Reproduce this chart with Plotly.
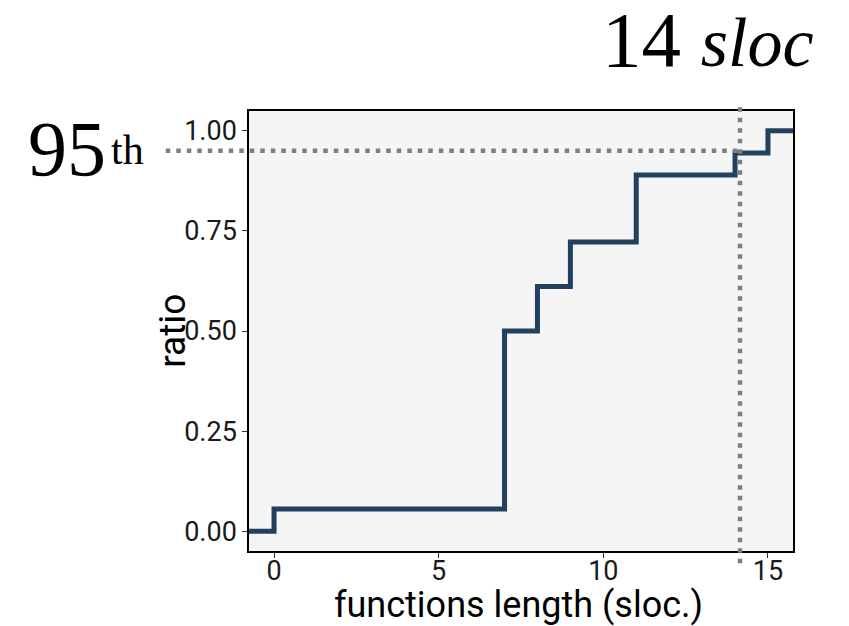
import plotly.graph_objects as go

# ECDF of function lengths (sloc)
step_x = [0, 7, 8, 9, 11, 14, 15]
step_y = [0.056, 0.5, 0.611, 0.722, 0.889, 0.944, 1.0]
x_range = [-0.76, 15.76]
y_range = [-0.049, 1.049]
p95_x = 14.15
p95_y = 0.95
x_ticks = [0, 5, 10, 15]
y_ticks = [0.0, 0.25, 0.5, 0.75, 1.0]
y_ticklabels = ["0.00", "0.25", "0.50", "0.75", "1.00"]

line_x = [x_range[0]] + step_x + [x_range[1]]
line_y = [0.0] + step_y + [step_y[-1]]

def fx(v):
    return (v - x_range[0]) / (x_range[1] - x_range[0])

def fy(v):
    return (v - y_range[0]) / (y_range[1] - y_range[0])

fig = go.Figure()
fig.add_trace(go.Scatter(x=line_x, y=line_y, mode="lines",
                         line=dict(color="#23405f", width=5, shape="hv"),
                         showlegend=False, hoverinfo="skip"))

dot = dict(color="#7f7f7f", width=4.5, dash="4.5px,6px")
fig.add_shape(type="line", xref="x domain", yref="y domain",
              x0=-0.153, x1=fx(p95_x), y0=fy(p95_y), y1=fy(p95_y), line=dot, layer="above")
fig.add_shape(type="line", xref="x domain", yref="y domain",
              x0=fx(p95_x), x1=fx(p95_x), y0=-0.028, y1=1.022, line=dot, layer="above")

serif = "Liberation Serif"
fig.add_annotation(xref="paper", yref="paper", x=-0.259, y=0.915, xanchor="right", yanchor="middle",
                   text="95", showarrow=False, font=dict(family=serif, size=78, color="black"))
fig.add_annotation(xref="paper", yref="paper", x=-0.258, y=0.912, xanchor="left", yanchor="middle",
                   text="th", showarrow=False, font=dict(family=serif, size=42, color="black"))
fig.add_annotation(xref="paper", yref="paper", x=1.04, y=1.163, xanchor="right", yanchor="middle",
                   text="14 <span style='font-size:70px'><i>sloc</i></span>", showarrow=False,
                   borderpad=0, font=dict(family=serif, size=79, color="black"))
# axis titles placed as text
fig.add_annotation(xref="paper", yref="paper", x=-0.142, y=0.5, xanchor="center", yanchor="middle",
                   text="ratio", textangle=-90, showarrow=False,
                   font=dict(family="Roboto", size=37, color="black"))
fig.add_annotation(xref="paper", yref="paper", x=0.496, y=-0.122, xanchor="center", yanchor="middle",
                   text="functions length (sloc.)", showarrow=False,
                   font=dict(family="Roboto", size=36, color="black"))

axis_common = dict(showgrid=False, zeroline=False, showline=True, linecolor="black", linewidth=1.5,
                   mirror=True, ticks="outside", ticklen=5, tickwidth=1.2, tickcolor="#333333",
                   automargin=False,
                   tickfont=dict(family="Roboto", size=27, color="#1a1a1a"))

fig.update_layout(
    width=841, height=618,
    margin=dict(l=241, r=56, t=103, b=75),
    paper_bgcolor="white", plot_bgcolor="#f5f5f5",
    xaxis=dict(range=x_range, tickvals=x_ticks, ticktext=[str(v) for v in x_ticks],
               ticklabelstandoff=-10, **axis_common),
    yaxis=dict(range=y_range, tickvals=y_ticks, ticktext=y_ticklabels, **axis_common),
)

fig.write_html("out.html")
